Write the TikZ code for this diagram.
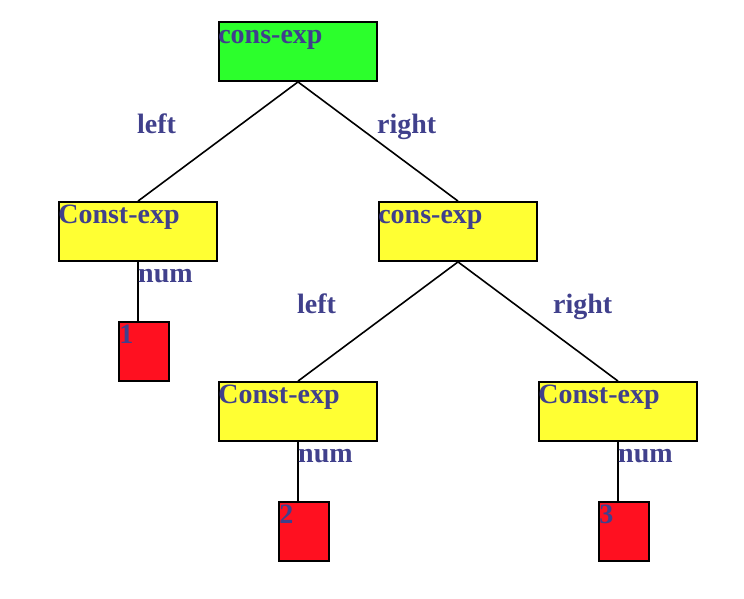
\documentclass[tikz,border=0pt]{standalone}
\usepackage{fontspec}
\setmainfont{Liberation Serif}
\definecolor{consgreen}{RGB}{44,255,44}
\definecolor{constyellow}{RGB}{255,255,51}
\definecolor{numred}{RGB}{255,16,32}
\definecolor{labelblue}{RGB}{64,64,140}
\begin{document}
\begin{tikzpicture}[x=1pt,y=-1pt,
    box/.style={draw,line width=1.8pt,minimum width=158pt,minimum height=59pt,inner sep=0pt},
    numbox/.style={draw,line width=1.8pt,fill=numred,minimum width=50pt,minimum height=59pt,inner sep=0pt},
    txt/.style={anchor=base west,inner sep=0pt,text=labelblue,font=\fontsize{28}{31}\selectfont\bfseries}]

        \useasboundingbox (0,0) rectangle (744,598);

        \begin{scope}[every node/.style={box,fill=constyellow}]
          \node[fill=consgreen] (c1) at (298,51.5)  {};
          \node (k1) at (138,231.5) {};
          \node (c2) at (458,231.5) {};
          \node (k2) at (298,411.5) {};
          \node (k3) at (618,411.5) {};
        \end{scope}

        \begin{scope}[every node/.style={numbox}]
          \node (n1) at (144,351.5) {};
          \node (n2) at (304,531.5) {};
          \node (n3) at (624,531.5) {};
        \end{scope}

        \begin{scope}[every edge/.style={draw,line width=1.6pt}]
          \path (c1.south) edge (k1.north);
          \path (c1.south) edge (c2.north);
          \path (c2.south) edge (k2.north);
          \path (c2.south) edge (k3.north);
          \path (k1.south) edge (k1.south |- n1.north);
          \path (k2.south) edge (k2.south |- n2.north);
          \path (k3.south) edge (k3.south |- n3.north);
        \end{scope}

        \begin{scope}[every node/.style={txt}]
          % texts inside the boxes
          \node (c1t) at (c1.north west) [xshift=0pt,yshift=-22pt] {cons-exp};
          \node (k1t) at (k1.north west) [xshift=0pt,yshift=-22pt] {Const-exp};
          \node (c2t) at (c2.north west) [xshift=0pt,yshift=-22pt] {cons-exp};
          \node (k2t) at (k2.north west) [xshift=0pt,yshift=-22pt] {Const-exp};
          \node (k3t) at (k3.north west) [xshift=0pt,yshift=-22pt] {Const-exp};
          \node (n1t) at (n1.north west) [xshift=1pt,yshift=-22pt] {1};
          \node (n2t) at (n2.north west) [xshift=1pt,yshift=-22pt] {2};
          \node (n3t) at (n3.north west) [xshift=1pt,yshift=-22pt] {3};
          % edge labels
          \node (l1) at (137,133) {left};
          \node (r1) at (377,133) {right};
          \node (m1) at (138,282) {num};
          \node (l2) at (297,313) {left};
          \node (r2) at (553,313) {right};
          \node (m2) at (298,462) {num};
          \node (m3) at (618,462) {num};
        \end{scope}

      \end{tikzpicture}
\end{document}
